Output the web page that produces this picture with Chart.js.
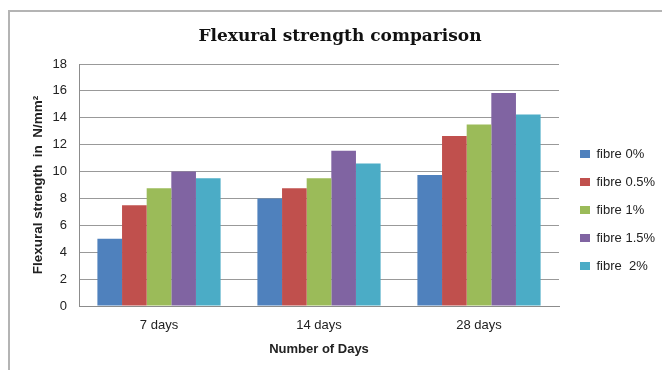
<!DOCTYPE html>
<html lang="en">
<head>
    <meta charset="UTF-8">
    <title>Flexural strength comparison</title>
    <style>
        body {
            margin: 0;
            padding: 0;
            background: #fff;
        }
        .wrap {
            position: relative;
            width: 662px;
            height: 370px;
        }
        .frame {
            position: absolute;
            left: 8px;
            top: 10px;
            right: 0;
            bottom: 0;
            border-top: 2px solid #b4b4b4;
            border-left: 2px solid #b4b4b4;
        }
        #chart {
            position: absolute;
            left: 0;
            top: 0;
        }
    </style>
    <script src="https://cdn.jsdelivr.net/npm/chart.js"></script>
</head>
<body>
    <div class="wrap">
        <div class="frame"></div>
        <canvas id="chart" width="662" height="370"></canvas>
    </div>

    <script>
        // data
        const categories = ['7 days', '14 days', '28 days'];
        const fibre0 = [5, 8, 9.75];
        const fibre05 = [7.5, 8.75, 12.65];
        const fibre1 = [8.75, 9.5, 13.5];
        const fibre15 = [10, 11.55, 15.85];
        const fibre2 = [9.5, 10.6, 14.25];
        const seriesNames = ['fibre 0%', 'fibre 0.5%', 'fibre 1%', 'fibre 1.5%', 'fibre  2%'];
        const seriesColors = ['#4f81bd', '#c0504d', '#9bbb59', '#8064a2', '#4bacc6'];
        const yTicks = [0, 2, 4, 6, 8, 10, 12, 14, 16, 18];

        Chart.defaults.font.family = "'Liberation Sans', Arial, sans-serif";
        Chart.defaults.color = '#222';

        const seriesValues = [fibre0, fibre05, fibre1, fibre15, fibre2];
        const datasets = seriesValues.map((vals, i) => ({
            label: seriesNames[i],
            data: vals,
            backgroundColor: seriesColors[i],
            borderWidth: 0,
            barPercentage: 1,
            categoryPercentage: 0.77
        }));

        const ctx = document.getElementById('chart').getContext('2d');
        new Chart(ctx, {
            type: 'bar',
            data: { labels: categories, datasets: datasets },
            options: {
                responsive: false,
                animation: false,
                devicePixelRatio: 1,
                layout: { padding: { left: 18 } },
                plugins: {
                    title: {
                        display: true,
                        text: 'Flexural strength comparison',
                        color: '#111',
                        font: { family: "'DejaVu Serif', serif", size: 17, weight: 'bold' },
                        padding: { top: 26.5, bottom: 17.1 }
                    },
                    legend: {
                        position: 'right',
                        maxWidth: 97,
                        // empty title only pushes the legend items down
                        title: { display: true, text: ' ', font: { size: 12 }, padding: { top: 0, bottom: 35.6 } },
                        labels: {
                            boxWidth: 10,
                            boxHeight: 8,
                            padding: 15,
                            color: '#222',
                            font: { size: 13 }
                        }
                    },
                    tooltip: { enabled: false }
                },
                scales: {
                    x: {
                        afterFit: (scale) => { scale.height = 64; },
                        grid: { display: false, drawTicks: false },
                        border: { display: true, color: '#8c8c8c' },
                        ticks: { padding: 12, font: { size: 13 } },
                        title: {
                            display: true,
                            text: 'Number of Days',
                            font: { size: 13, weight: 'bold' },
                            padding: { top: 8, bottom: 13 }
                        }
                    },
                    y: {
                        min: 0,
                        max: 18,
                        afterBuildTicks: (scale) => { scale.ticks = yTicks.map(v => ({ value: v })); },
                        afterFit: (scale) => { scale.width = 61; },
                        grid: { color: '#999', drawTicks: false },
                        border: { display: true, color: '#8c8c8c' },
                        ticks: { padding: 12, font: { size: 13 } },
                        title: {
                            display: true,
                            text: 'Flexural strength  in  N/mm²',
                            font: { size: 13.5, weight: 'bold' },
                            padding: { top: 12, bottom: 0 }
                        }
                    },
                    yR: {
                        position: 'right',
                        grid: { display: false },
                        border: { display: false },
                        ticks: { display: false },
                        afterFit: (scale) => { scale.width = 6; }
                    }
                }
            }
        });
    </script>
</body>
</html>
